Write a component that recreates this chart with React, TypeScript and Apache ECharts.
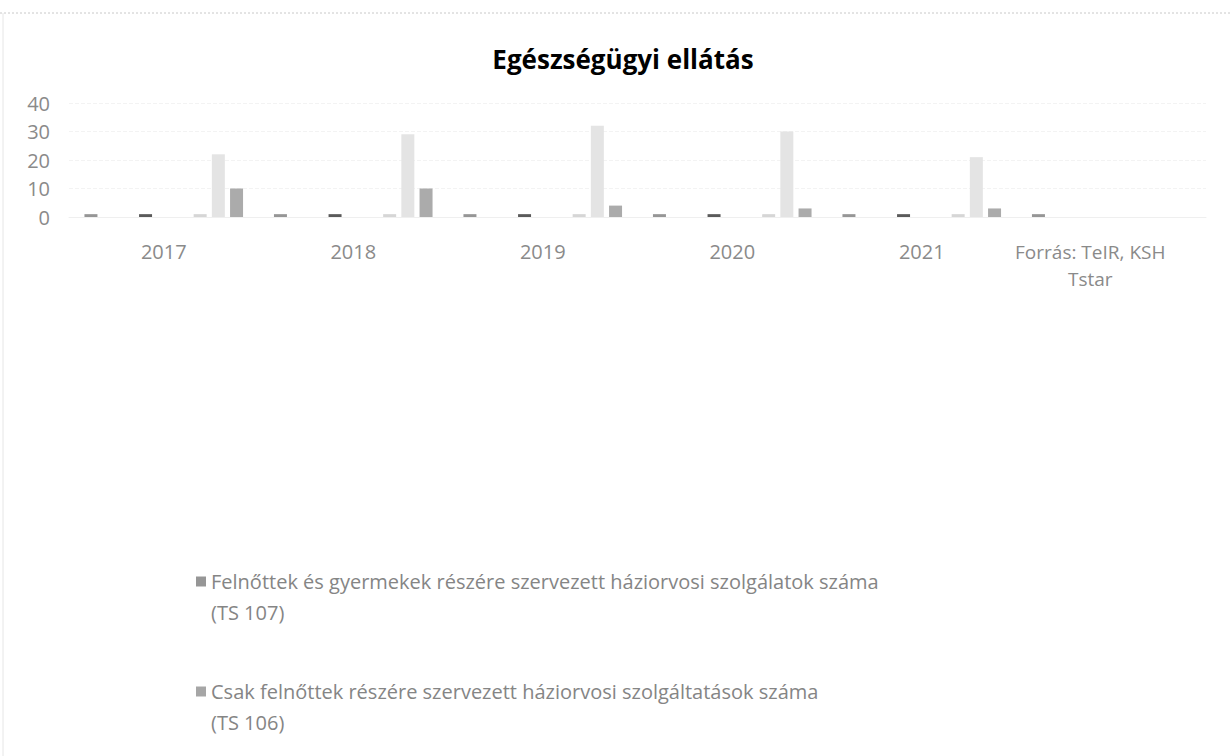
import React, { useEffect, useRef } from "react";
import * as echarts from "echarts";

const categories = ["2017", "2018", "2019", "2020", "2021", "Forrás: TeIR, KSH\nTstar"];
const yTicks = [0, 10, 20, 30, 40];

const legendNames = [
  "Felnőttek és gyermekek részére szervezett háziorvosi szolgálatok száma (TS 107)",
  "Csak felnőttek részére szervezett háziorvosi szolgáltatások száma (TS 106)",
];

const s1 = [1, 1, 1, 1, 1, 1];
const s2 = [0, 0, 0, 0, 0, 0];
const s3 = [0, 0, 0, 0, 0, 0];
const s4 = [1, 1, 1, 1, 1, 0];
const s5 = [0, 0, 0, 0, 0, 0];
const s6 = [0, 0, 0, 0, 0, 0];
const s7 = [1, 1, 1, 1, 1, 0];
const s8 = [22, 29, 32, 30, 21, 0];
const s9 = [10, 10, 4, 3, 3, 0];

const seriesNames = [
  legendNames[0],
  legendNames[1],
  "Sorozat 3",
  "Sorozat 4",
  "Sorozat 5",
  "Sorozat 6",
  "Sorozat 7",
  "Sorozat 8",
  "Sorozat 9",
];
const seriesData = [s1, s2, s3, s4, s5, s6, s7, s8, s9];
const seriesColors = ["#969696", "#a6a6a6", "#bdbdbd", "#5a5a5a", "#bdbdbd", "#bdbdbd", "#d6d6d6", "#e4e4e4", "#ababab"];

const FONT = "'Open Sans', sans-serif";

export default function App() {
  const ref = useRef<HTMLDivElement>(null);
  useEffect(() => {
    if (!ref.current) return;
    const chart = echarts.init(ref.current, null, { renderer: "svg" });
    const option: any = {
      animation: false,
      backgroundColor: "#ffffff",
      title: {
        text: "Egészségügyi ellátás",
        left: 618,
        textAlign: "center",
        top: 41,
        textStyle: { fontFamily: FONT, fontSize: 26, fontWeight: "bold", color: "#000000" },
      },
      graphic: [
        { type: "line", shape: { x1: 0, y1: 13, x2: 1231, y2: 13 }, style: { stroke: "#c8c8c8", lineWidth: 1, lineDash: [2, 2] } },
        { type: "line", shape: { x1: 3, y1: 13, x2: 3, y2: 756 }, style: { stroke: "#e6e6e6", lineWidth: 1 } },
      ],
      grid: { left: 69, right: 25, top: 103, bottom: 539, containLabel: false },
      xAxis: {
        type: "category",
        data: categories.map((c, i) =>
          i === categories.length - 1
            ? { value: c, textStyle: { padding: [0, 42, 0, 0], fontSize: 19 } }
            : c
        ),
        axisLine: { show: true, lineStyle: { color: "#efefef" } },
        axisTick: { show: false },
        axisLabel: {
          margin: 21,
          fontFamily: FONT,
          fontSize: 20,
          color: "#8a8a8a",
          lineHeight: 27,
          interval: 0,
        },
      },
      yAxis: {
        type: "value",
        min: yTicks[0],
        max: yTicks[yTicks.length - 1],
        interval: 10,
        axisLine: { show: false },
        axisTick: { show: false },
        splitLine: { show: true, lineStyle: { color: "#f3f3f3", type: "dashed" } },
        axisLabel: { margin: 19, fontFamily: FONT, fontSize: 20, color: "#8a8a8a" },
      },
      legend: {
        data: legendNames,
        orient: "vertical",
        left: 191,
        top: 530,
        icon: "rect",
        itemWidth: 10,
        itemHeight: 10,
        itemGap: 17,
        formatter: (name: string) => "\n" + name.replace(" (TS", "\n(TS"),
        textStyle: { fontFamily: FONT, fontSize: 20, color: "#858585", lineHeight: 31 },
      },
      series: seriesData.map((d, i) => ({
        name: seriesNames[i],
        type: "bar",
        data: d,
        barWidth: 13,
        barGap: "40%",
        itemStyle: { color: seriesColors[i] },
      })),
    };
    chart.setOption(option);
    return () => chart.dispose();
  }, []);
  return (
    <div
      ref={ref}
      style={{ position: "fixed", left: 0, top: 0, width: 1231, height: 756 }}
    />
  );
}
